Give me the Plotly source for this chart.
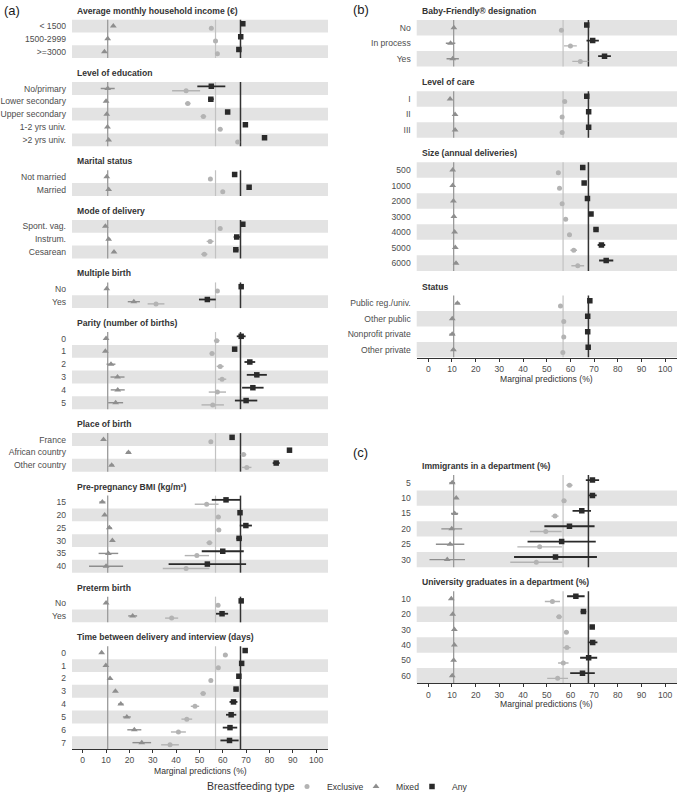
import plotly.graph_objects as go

W, H = 677, 801

# ---------------- data ----------------
series_names = ["Exclusive", "Mixed", "Any"]
overall_excl, overall_mixed, overall_any = 56.9, 10.7, 67.6

# Panel (a)
sections_a = ["Average monthly household income (€)", "Level of education", "Marital status",
              "Mode of delivery", "Multiple birth", "Parity (number of births)", "Place of birth",
              "Pre-pregnancy BMI (kg/m²)", "Preterm birth", "Time between delivery and interview (days)"]
labels_a = [["< 1500", "1500-2999", ">=3000"],
            ["No/primary", "Lower secondary", "Upper secondary", "1-2 yrs univ.", ">2 yrs univ."],
            ["Not married", "Married"],
            ["Spont. vag.", "Instrum.", "Cesarean"],
            ["No", "Yes"],
            ["0", "1", "2", "3", "4", "5"],
            ["France", "African country", "Other country"],
            ["15", "20", "25", "30", "35", "40"],
            ["No", "Yes"],
            ["0", "1", "2", "3", "4", "5", "6", "7"]]
excl_a = [55.1, 56.9, 57.7,
          44.3, 45.0, 51.7, 58.9, 66.4,
          54.7, 60.0,
          58.9, 54.6, 52.1,
          57.7, 31.4,
          57.4, 55.4, 58.9, 59.7, 57.7, 55.7,
          54.9, 68.9, 70.3,
          53.1, 58.1, 58.3, 54.3, 48.9, 44.3,
          58.0, 38.1,
          61.1, 58.1, 54.9, 51.6, 48.1, 44.6, 41.0, 37.4]
excl_err_a = [0.5, 0.4, 0.5,
              6.0, 1.2, 1.2, 1.0, 0.8,
              0.6, 0.7,
              0.5, 1.5, 1.3,
              0.4, 3.6,
              1.2, 1.0, 1.5, 1.8, 3.7, 4.8,
              0.5, 1.2, 2.0,
              5.1, 1.0, 1.0, 1.3, 5.2, 10.0,
              0.4, 2.8,
              1.0, 0.5, 0.6, 1.2, 1.8, 2.3, 3.2, 3.8]
mixed_a = [13.1, 10.7, 9.3,
           10.7, 10.0, 10.3, 10.6, 11.1,
           10.3, 11.1,
           9.7, 11.1, 13.4,
           10.3, 21.9,
           10.0, 9.7, 12.1, 14.9, 15.0, 14.1,
           8.9, 19.6, 12.4,
           8.4, 9.4, 11.4, 12.7, 11.0, 10.0,
           10.0, 21.4,
           8.1, 9.9, 11.7, 14.0, 16.3, 18.9, 22.1, 25.3]
mixed_err_a = [0.6, 0.4, 0.5,
               3.0, 0.6, 0.5, 0.5, 0.5,
               0.4, 0.4,
               0.4, 0.8, 0.8,
               0.3, 2.6,
               0.5, 0.4, 1.9, 3.0, 3.0, 3.2,
               0.4, 1.0, 1.0,
               1.3, 0.5, 1.0, 0.6, 4.2, 7.3,
               0.3, 1.9,
               0.5, 0.3, 0.4, 0.8, 1.2, 1.7, 3.0, 4.0]
any_a = [68.6, 67.7, 66.9,
         55.1, 54.9, 62.1, 69.7, 77.9,
         65.1, 71.3,
         68.6, 66.0, 65.6,
         67.9, 53.4,
         67.9, 65.1, 71.6, 74.6, 72.9, 70.0,
         64.0, 88.6, 82.9,
         61.4, 67.4, 69.9, 67.0, 60.0, 53.4,
         67.9, 59.7,
         69.6, 68.1, 66.9, 65.7, 64.6, 63.6, 63.1, 62.9]
any_err_a = [0.5, 0.4, 0.5,
             6.0, 1.2, 1.0, 0.9, 0.7,
             0.6, 0.6,
             0.4, 1.3, 1.1,
             0.4, 3.6,
             1.9, 1.0, 2.3, 4.3, 4.6, 4.8,
             0.5, 1.0, 1.5,
             6.1, 0.6, 2.6, 1.2, 9.0, 16.6,
             0.4, 2.6,
             0.7, 0.5, 0.6, 1.0, 1.7, 2.2, 3.1, 3.9]

# Panel (b)
sections_b = ["Baby-Friendly® designation", "Level of care", "Size (annual deliveries)", "Status"]
labels_b = [["No", "In process", "Yes"],
            ["I", "II", "III"],
            ["500", "1000", "2000", "3000", "4000", "5000", "6000"],
            ["Public reg./univ.", "Other public", "Nonprofit private", "Other private"]]
excl_b = [56.2, 60.0, 64.2,
          57.6, 56.5, 56.5,
          54.9, 55.4, 56.5, 58.0, 59.6, 61.4, 63.1,
          55.8, 57.2, 57.2, 56.8]
excl_err_b = [0.4, 2.7, 3.4,
              0.5, 0.4, 0.5,
              0.8, 0.5, 0.4, 0.6, 1.0, 1.4, 2.7,
              0.5, 0.5, 0.6, 0.5]
mixed_b = [10.8, 9.4, 10.3,
           9.2, 11.3, 11.3,
           10.3, 10.3, 10.6, 10.8, 11.1, 11.4, 11.7,
           12.3, 10.1, 10.1, 10.6]
mixed_err_b = [0.3, 2.0, 2.6,
               0.4, 0.3, 0.7,
               0.3, 0.3, 0.3, 0.3, 0.4, 0.5, 0.8,
               1.0, 0.5, 1.2, 0.8]
any_b = [66.9, 69.4, 74.4,
         66.9, 67.7, 67.7,
         65.2, 65.8, 67.2, 68.7, 70.8, 73.1, 75.1,
         68.2, 67.3, 67.3, 67.5]
any_err_b = [0.4, 2.6, 2.7,
             0.5, 0.4, 0.5,
             1.0, 0.5, 0.4, 0.6, 1.0, 1.6, 3.0,
             0.5, 0.5, 0.5, 0.5]

# Panel (c)
sections_c = ["Immigrants in a department (%)", "University graduates in a department (%)"]
labels_c = [["5", "10", "15", "20", "25", "30"],
            ["10", "20", "30", "40", "50", "60"]]
excl_c = [59.6, 57.3, 53.5, 49.6, 47.0, 45.6,
          52.4, 55.2, 58.3, 58.5, 57.0, 54.6]
excl_err_c = [1.3, 1.0, 1.5, 6.7, 9.4, 11.0,
              3.2, 1.3, 1.0, 1.6, 2.2, 4.4]
mixed_c = [10.1, 11.8, 11.1, 9.9, 9.2, 8.0,
           9.7, 10.3, 11.0, 11.0, 10.7, 10.1]
mixed_err_c = [1.2, 0.8, 1.5, 4.4, 6.0, 7.5,
               0.4, 0.3, 0.3, 0.4, 0.4, 0.8]
any_c = [69.3, 69.3, 64.8, 59.6, 56.3, 53.7,
         62.3, 65.5, 69.2, 69.4, 67.7, 65.1]
any_err_c = [2.8, 1.8, 3.9, 10.6, 14.4, 17.5,
             3.7, 1.2, 1.0, 2.0, 3.6, 5.2]

x_ticks = [0, 10, 20, 30, 40, 50, 60, 70, 80, 90, 100]

# ---------------- styling ----------------
FONT = "Liberation Sans"
COL_EXCL, COL_MIXED, COL_ANY = "#b3b3b3", "#8e8e8e", "#2a2a2a"
BAND = "#e3e3e3"
TXT = "#4d4d4d"
DODGE = 0.17
LEGEND_KEYS = {"Exclusive": "legend", "Mixed": "legend2", "Any": "legend3"}


def layout_rows(label_groups, gap):
    pos, bounds, y = [], [], 0.0
    for labs in label_groups:
        start = y
        for _ in labs:
            pos.append(y)
            y += 1
        bounds.append((start, y - 1))
        y += gap
    return pos, bounds


def px_to_paper_y(px):
    return 1 - px / H


panels = [
    dict(key="", secs=sections_a, labs=labels_a, gap=1.866,
         dom_x=(72 / W, 328 / W), dom_y_px=(19.6, 750), xr=[-4.6, 105.1],
         data=(excl_a, excl_err_a, mixed_a, mixed_err_a, any_a, any_err_a),
         left_px=72, title_px=772, legend=True),
    dict(key="2", secs=sections_b, labs=labels_b, gap=1.587,
         dom_x=(416.7 / W, 1.0), dom_y_px=(20, 358), xr=[-4.9, 105.0],
         data=(excl_b, excl_err_b, mixed_b, mixed_err_b, any_b, any_err_b),
         left_px=416.7, title_px=379.5, legend=False),
    dict(key="3", secs=sections_c, labs=labels_c, gap=1.55,
         dom_x=(416.7 / W, 1.0), dom_y_px=(475.6, 684.3), xr=[-4.9, 105.0],
         data=(excl_c, excl_err_c, mixed_c, mixed_err_c, any_c, any_err_c),
         left_px=416.7, title_px=705, legend=False),
]

fig = go.Figure()
shapes, annotations = [], []
layout_axes = {}

for p in panels:
    k = p["key"]
    xname, yname = "x" + k, "y" + k
    pos, bounds = layout_rows(p["labs"], p["gap"])
    flat_labels = [l for g in p["labs"] for l in g]
    ex, exe, mx, mxe, an, ane = p["data"]

    # bands (bottom row of each section is shaded, alternating upward)
    for (s0, s1) in bounds:
        n = int(round(s1 - s0)) + 1
        for i in range(n):
            if (n - 1 - i) % 2 == 0:
                shapes.append(dict(type="rect", xref=xname + " domain", x0=0, x1=1,
                                   yref=yname, y0=s0 + i - 0.5, y1=s0 + i + 0.5,
                                   fillcolor=BAND, line=dict(width=0), layer="below"))
        for val, col, w in [(overall_mixed, "#9a9a9a", 1.3), (overall_excl, "#c2c2c2", 1.2),
                            (overall_any, "#333333", 1.5)]:
            shapes.append(dict(type="line", xref=xname, x0=val, x1=val, yref=yname,
                               y0=s0 - 0.5, y1=s1 + 0.5, line=dict(color=col, width=w),
                               layer="below"))

    for title, (s0, s1) in zip(p["secs"], bounds):
        annotations.append(dict(text="<b>" + title + "</b>", xref="paper", x=(p["left_px"] + 3) / W,
                                xanchor="left", yref=yname, y=s0 - 0.5, yshift=9, yanchor="middle",
                                showarrow=False, font=dict(family=FONT, size=8.6, color="#333333")))

    traces = [("Exclusive", ex, exe, COL_EXCL, "circle", 5, DODGE, 1.4),
              ("Mixed", mx, mxe, COL_MIXED, "triangle-up", 6, 0.0, 1.4),
              ("Any", an, ane, COL_ANY, "square", 5.5, -DODGE, 1.8)]
    for name, vals, errs, col, sym, size, off, thick in traces:
        fig.add_trace(go.Scatter(
            x=vals, y=[q + off for q in pos], mode="markers", name=name,
            marker=dict(symbol=sym, size=size, color=col, line=dict(width=0)),
            error_x=dict(type="data", array=errs, width=0, thickness=thick, color=col),
            xaxis=xname, yaxis=yname, showlegend=p["legend"], legend=LEGEND_KEYS[name],
            hoverinfo="skip"))

    total_last = pos[-1]
    layout_axes["xaxis" + k] = dict(domain=list(p["dom_x"]), anchor=yname, range=p["xr"],
                                    tickvals=x_ticks, ticks="outside", ticklen=3, tickwidth=1,
                                    tickcolor="#333333", showline=True, linecolor="#333333",
                                    linewidth=1.1, showgrid=False, zeroline=False,
                                    tickfont=dict(family=FONT, size=8.6, color=TXT))
    layout_axes["yaxis" + k] = dict(domain=[px_to_paper_y(p["dom_y_px"][1]), px_to_paper_y(p["dom_y_px"][0])],
                                    anchor=xname, range=[total_last + 0.5, -0.5],
                                    tickvals=pos, ticktext=flat_labels, ticks="", showline=False,
                                    showgrid=False, zeroline=False, ticklabelstandoff=5,
                                    tickfont=dict(family=FONT, size=8.6, color=TXT))
    dx = p["dom_x"]
    annotations.append(dict(text="Marginal predictions (%)", xref="paper", x=(dx[0] + dx[1]) / 2,
                            xanchor="center", yref="paper", y=px_to_paper_y(p["title_px"]),
                            yanchor="middle", showarrow=False,
                            font=dict(family=FONT, size=8.6, color="#333333")))

for lab, xp, yp in [("(a)", 2, 11), ("(b)", 351, 10), ("(c)", 351, 453)]:
    annotations.append(dict(text=lab, xref="paper", x=xp / W, xanchor="left", yref="paper",
                            y=px_to_paper_y(yp), yanchor="middle", showarrow=False,
                            font=dict(family=FONT, size=13, color="#1a1a1a")))

# legend title
annotations.append(dict(text="Breastfeeding type", xref="paper", x=205 / W, xanchor="left",
                        yref="paper", y=px_to_paper_y(787), yanchor="middle", showarrow=False,
                        font=dict(family=FONT, size=10.5, color="#333333")))


def legend_box(x_px):
    return dict(orientation="h", x=x_px / W, xanchor="left", y=px_to_paper_y(787), yanchor="middle",
                font=dict(family=FONT, size=8.6, color="#333333"), itemwidth=30,
                bgcolor="rgba(0,0,0,0)", borderwidth=0)


fig.update_layout(
    width=W, height=H, margin=dict(l=0, r=0, t=0, b=0),
    paper_bgcolor="white", plot_bgcolor="white",
    shapes=shapes, annotations=annotations,
    legend=legend_box(287), legend2=legend_box(356), legend3=legend_box(412),
    **layout_axes,
)

fig.write_html("out.html", config={"displayModeBar": False},
               post_script="document.body.style.margin='0';")
